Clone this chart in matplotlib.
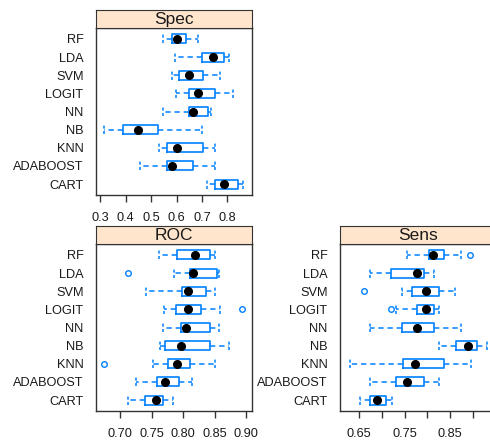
import matplotlib
matplotlib.use("Agg")
import matplotlib.pyplot as plt
import numpy as np

plt.rcParams['font.family'] = ['Liberation Sans', 'DejaVu Sans']

# models, bottom to top as lattice draws them
models = ['CART', 'ADABOOST', 'KNN', 'NB', 'NN', 'LOGIT', 'SVM', 'LDA', 'RF']

# per metric: [whisker low, q1, median, q3, whisker high] for each model (same order)
spec_stats = [
    [0.720, 0.753, 0.786, 0.841, 0.861],
    [0.457, 0.561, 0.582, 0.664, 0.752],
    [0.530, 0.561, 0.602, 0.703, 0.752],
    [0.316, 0.388, 0.447, 0.528, 0.700],
    [0.546, 0.648, 0.664, 0.723, 0.736],
    [0.598, 0.648, 0.683, 0.752, 0.824],
    [0.582, 0.611, 0.648, 0.703, 0.771],
    [0.595, 0.700, 0.742, 0.788, 0.805],
    [0.546, 0.582, 0.601, 0.637, 0.685],
]
spec_out = [[], [], [], [], [], [], [], [], []]

roc_stats = [
    [0.712, 0.739, 0.757, 0.768, 0.784],
    [0.726, 0.758, 0.771, 0.793, 0.814],
    [0.752, 0.776, 0.790, 0.811, 0.850],
    [0.764, 0.772, 0.796, 0.843, 0.873],
    [0.768, 0.796, 0.805, 0.843, 0.857],
    [0.770, 0.788, 0.808, 0.828, 0.859],
    [0.741, 0.798, 0.808, 0.836, 0.851],
    [0.786, 0.811, 0.816, 0.854, 0.856],
    [0.761, 0.791, 0.818, 0.843, 0.851],
]
roc_out = [[], [], [0.675], [], [], [0.893], [], [0.713], []]

sens_stats = [
    [0.652, 0.675, 0.690, 0.710, 0.722],
    [0.674, 0.732, 0.756, 0.793, 0.826],
    [0.630, 0.747, 0.772, 0.837, 0.895],
    [0.826, 0.862, 0.890, 0.909, 0.932],
    [0.674, 0.745, 0.777, 0.815, 0.874],
    [0.732, 0.778, 0.796, 0.815, 0.826],
    [0.745, 0.767, 0.796, 0.826, 0.860],
    [0.674, 0.721, 0.777, 0.793, 0.814],
    [0.756, 0.804, 0.813, 0.837, 0.874],
]
sens_out = [[], [], [], [], [], [0.720], [0.661], [], [0.893]]

spec_ticks = [0.3, 0.4, 0.5, 0.6, 0.7, 0.8]
spec_labels = ['0.3', '0.4', '0.5', '0.6', '0.7', '0.8']
roc_ticks = [0.70, 0.75, 0.80, 0.85, 0.90]
roc_labels = ['0.70', '0.75', '0.80', '0.85', '0.90']
sens_ticks = [0.65, 0.70, 0.75, 0.80, 0.85, 0.90]
sens_labels = ['0.65', '', '0.75', '', '0.85', '']

W, H = 490, 441
BLUE = '#0080ff'
FRAME = '#333333'
STRIP = '#ffe5cc'

fig = plt.figure(figsize=(W / 100, H / 100), dpi=100)


def panel(left, top, bottom, name, stats, outs, xlim, ticks, labels):
    width = 156
    ax = fig.add_axes([left / W, 1 - bottom / H, width / W, (bottom - top) / H])
    st = fig.add_axes([left / W, 1 - top / H, width / W, 18 / H])
    st.set_facecolor(STRIP)
    st.set_xticks([])
    st.set_yticks([])
    for s in st.spines.values():
        s.set_color(FRAME)
    st.text(0.5, 0.45, name, ha='center', va='center', fontsize=12.5,
            color='#1a1a1a', transform=st.transAxes)

    pos = np.arange(1, len(models) + 1)
    bxstats = []
    for m, s, o in zip(models, stats, outs):
        bxstats.append(dict(label=m, whislo=s[0], q1=s[1], med=s[2],
                            q3=s[3], whishi=s[4], fliers=o))
    ax.bxp(bxstats, positions=pos, widths=0.5, capwidths=0.5,
           orientation='horizontal', showfliers=True,
           boxprops=dict(color=BLUE, linewidth=1.2),
           whiskerprops=dict(color=BLUE, linewidth=1.1, linestyle=(0, (3.5, 2.5))),
           capprops=dict(color=BLUE, linewidth=1.1, linestyle=(0, (2, 1.5))),
           medianprops=dict(linewidth=0),
           flierprops=dict(marker='o', markersize=4, markerfacecolor='none',
                           markeredgecolor=BLUE, markeredgewidth=1))
    meds = [s[2] for s in stats]
    ax.plot(meds, pos, 'o', color='black', markersize=5.5, zorder=5)

    ax.set_xlim(*xlim)
    ax.set_ylim(0.4, len(models) + 0.6)
    ax.set_yticks(pos)
    ax.set_yticklabels(models, fontsize=9.2, color='#1a1a1a')
    ax.tick_params(axis='y', length=0, pad=9)
    ax.set_xticks(ticks)
    ax.set_xticklabels(labels, fontsize=9.2, color='#1a1a1a')
    ax.tick_params(axis='x', length=5, width=1, color=FRAME, pad=7)
    for s in ax.spines.values():
        s.set_color(FRAME)
        s.set_linewidth(1)
    return ax


panel(96, 28, 195, 'Spec', spec_stats, spec_out, (0.283, 0.897), spec_ticks, spec_labels)
panel(96, 244, 411, 'ROC', roc_stats, roc_out, (0.662, 0.909), roc_ticks, roc_labels)
panel(340, 244, 411, 'Sens', sens_stats, sens_out, (0.608, 0.951), sens_ticks, sens_labels)

fig.savefig('out.png', dpi=100)
